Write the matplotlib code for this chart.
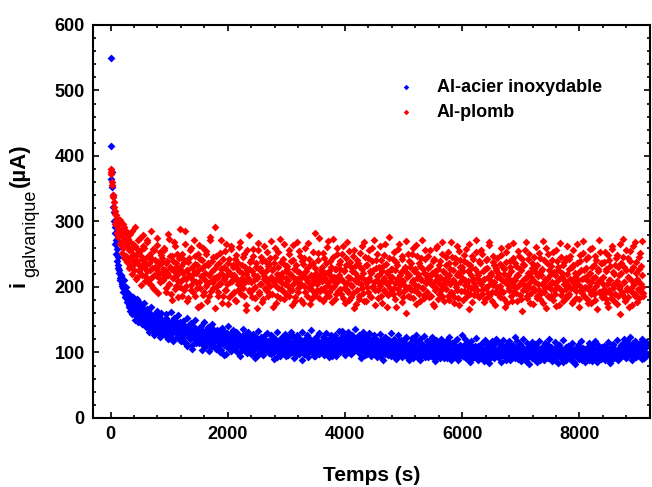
import numpy as np
import matplotlib
matplotlib.use("Agg")
import matplotlib.pyplot as plt
from matplotlib.ticker import MultipleLocator

plt.rcParams["font.family"] = ["Liberation Sans", "DejaVu Sans"]

# sampling step of the recording (s); the "_mid" readings sit half a step later
STEP = 15

LABEL_STEEL = "Al-acier inoxydable"
LABEL_LEAD = "Al-plomb"

# galvanic current, Al / stainless steel (uA)
i_steel = [
    550, 415, 375, 340, 315, 292, 271, 258, 246, 233, 226, 214, 219, 204, 199, 210, 191, 187, 200, 182,
    178, 169, 186, 172, 163, 175, 181, 160, 168, 171, 154, 166, 177, 158, 163, 149, 170, 161, 152, 159,
    148, 163, 141, 155, 137, 150, 158, 144, 133, 152, 147, 139, 160, 145, 136, 151, 123, 142, 149, 138,
    145, 131, 140, 152, 128, 136, 143, 125, 139, 147, 133, 121, 141, 135, 148, 129, 137, 126, 144, 132,
    118, 136, 128, 142, 124, 131, 115, 139, 127, 133, 121, 145, 126, 112, 134, 129, 138, 119, 130, 124,
    132, 117, 127, 140, 113, 123, 129, 108, 126, 135, 119, 122, 131, 114, 125, 137, 118, 110, 128, 121,
    126, 109, 119, 133, 115, 122, 104, 128, 117, 112, 124, 98, 120, 130, 113, 107, 121, 116, 127, 111,
    118, 124, 106, 114, 129, 110, 117, 101, 122, 113, 108, 126, 115, 103, 119, 112, 131, 109, 116, 105,
    120, 111, 99, 115, 125, 107, 113, 118, 96, 112, 121, 108, 114, 102, 117, 110, 127, 104, 111, 116,
    106, 119, 98, 112, 108, 123, 101, 115, 110, 93, 113, 118, 105, 109, 121, 100, 112, 107, 116, 95,
    111, 104, 120, 108, 99, 114, 110, 125, 102, 107, 117, 96, 112, 106, 119, 109, 101, 115, 88, 110,
    113, 103, 118, 107, 97, 111, 122, 105, 109, 100, 116, 108, 94, 112, 119, 104, 110, 98, 114, 106,
    117, 102, 111, 123, 106, 99, 113, 108, 120, 101, 110, 115, 95, 107, 112, 126, 104, 109, 118, 103,
    114, 120, 105, 112, 127, 108, 116, 100, 113, 119, 106, 122, 110, 97, 115, 109, 124, 103, 117, 111,
    107, 118, 112, 99, 115, 104, 121, 109, 113, 96, 111, 125, 106, 114, 102, 117, 108, 119, 101, 110,
    112, 98, 107, 116, 103, 110, 94, 108, 119, 101, 105, 113, 97, 109, 104, 121, 100, 107, 111, 95,
    106, 115, 99, 103, 110, 92, 108, 101, 117, 104, 96, 109, 113, 98, 105, 120, 102, 94, 107, 111,
    100, 108, 95, 112, 103, 97, 106, 118, 99, 104, 91, 109, 102, 114, 96, 105, 101, 110, 93, 107,
    104, 98, 111, 101, 94, 106, 116, 99, 103, 90, 108, 100, 113, 97, 105, 102, 95, 110, 99, 106,
    96, 109, 103, 91, 105, 100, 114, 98, 102, 107, 93, 101, 110, 97, 104, 88, 106, 99, 112, 100,
    103, 95, 108, 99, 92, 105, 101, 115, 97, 102, 90, 107, 100, 96, 110, 98, 104, 93, 101, 106,
    99, 111, 94, 103, 100, 87, 106, 98, 104, 113, 96, 101, 92, 108, 99, 105, 97, 102, 116, 95,
    100, 106, 91, 103, 97, 110, 99, 94, 105, 101, 88, 107, 98, 102, 112, 95, 100, 104, 93, 99,
    108, 96, 101, 90, 104, 99, 113, 97, 102, 94, 106, 100, 87, 103, 98, 109, 95, 101, 105, 92,
    99, 104, 96, 110, 93, 100, 97, 106, 89, 102, 98, 95, 108, 101, 91, 103, 97, 112, 94, 100,
    105, 92, 99, 103, 96, 88, 107, 100, 94, 101, 111, 97, 93, 104, 99, 86, 102, 98, 106, 95,
    100, 94, 108, 97, 91, 103, 99, 85, 101, 96, 105, 93, 98, 110, 95, 100, 89, 104, 97, 92,
    99, 106, 94, 101, 88, 97, 103, 95, 112, 98, 92, 100, 96, 107, 90, 102, 97, 94, 105, 99,
    93, 101, 96, 109, 98, 91, 104, 100, 87, 97, 103, 95, 111, 99, 94, 102, 98, 106, 92, 100,
    105, 97, 113, 101, 95, 108, 99, 118, 103, 94, 110, 100, 107, 96, 115, 102, 98, 109, 93, 104,
    99, 106, 95, 112, 101, 90, 103, 97, 108, 94, 110,
]

i_steel_mid = [
    365, 352, 322, 301, 283, 266, 250, 240, 229, 221, 211, 217, 202, 208, 193, 200, 185, 194, 177, 189,
    172, 190, 164, 178, 158, 184, 167, 150, 175, 162, 181, 146, 169, 156, 173, 143, 165, 176, 151, 160,
    139, 166, 153, 131, 158, 145, 170, 135, 149, 127, 156, 142, 164, 132, 147, 155, 129, 161, 144, 136,
    150, 126, 143, 158, 133, 120, 147, 138, 162, 129, 142, 117, 153, 134, 140, 124, 157, 131, 146, 119,
    139, 122, 148, 116, 134, 127, 152, 110, 137, 123, 143, 131, 106, 140, 120, 149, 128, 114, 135, 170,
    115, 138, 124, 104, 133, 120, 147, 111, 129, 118, 139, 102, 127, 134, 109, 143, 121, 116, 131, 105,
    123, 135, 110, 128, 101, 119, 137, 114, 125, 96, 131, 118, 108, 140, 115, 122, 103, 129, 112, 134,
    107, 121, 132, 100, 117, 127, 111, 94, 124, 116, 136, 105, 119, 113, 128, 99, 115, 123, 109, 97,
    114, 128, 103, 119, 92, 122, 110, 133, 106, 117, 100, 124, 111, 96, 120, 115, 104, 129, 108, 118,
    99, 114, 126, 103, 117, 90, 121, 108, 113, 131, 102, 116, 95, 111, 124, 106, 119, 98, 128, 110,
    117, 96, 123, 105, 114, 131, 100, 112, 91, 119, 108, 126, 103, 115, 97, 121, 110, 132, 104, 113,
    98, 120, 109, 127, 93, 116, 104, 112, 134, 101, 118, 95, 110, 123, 106, 99, 117, 129, 102, 114,
    105, 124, 96, 115, 108, 130, 101, 119, 93, 113, 126, 104, 117, 99, 122, 111, 95, 120, 107, 133,
    121, 101, 116, 133, 107, 119, 96, 125, 112, 104, 131, 115, 99, 118, 127, 103, 114, 136, 108, 120,
    115, 103, 126, 110, 92, 119, 106, 132, 101, 117, 124, 98, 113, 129, 105, 121, 95, 116, 110, 127,
    102, 120, 111, 93, 117, 105, 128, 99, 113, 89, 116, 107, 124, 100, 111, 96, 119, 104, 130, 108,
    97, 112, 121, 101, 90, 115, 106, 126, 98, 110, 119, 93, 107, 116, 100, 124, 95, 111, 104, 88,
    114, 99, 122, 105, 92, 110, 101, 127, 96, 116, 106, 89, 120, 103, 111, 98, 125, 107, 94, 117,
    109, 93, 118, 104, 98, 124, 100, 112, 87, 107, 119, 96, 114, 102, 91, 121, 105, 99, 116, 92,
    112, 98, 119, 94, 106, 123, 100, 89, 115, 103, 96, 117, 108, 92, 121, 101, 110, 95, 104, 126,
    94, 111, 100, 120, 91, 106, 97, 113, 86, 104, 117, 99, 108, 93, 102, 122, 96, 110, 89, 105,
    108, 93, 115, 101, 96, 119, 90, 104, 99, 112, 84, 107, 101, 118, 95, 110, 92, 103, 121, 97,
    104, 115, 96, 109, 86, 102, 119, 98, 107, 92, 113, 100, 95, 117, 89, 106, 101, 111, 97, 123,
    91, 105, 117, 100, 95, 112, 87, 108, 102, 120, 96, 104, 90, 114, 99, 106, 83, 110, 98, 116,
    105, 90, 113, 99, 108, 85, 102, 117, 96, 106, 93, 110, 100, 88, 115, 98, 104, 92, 121, 101,
    96, 109, 87, 104, 99, 116, 93, 107, 101, 84, 112, 97, 105, 90, 119, 100, 95, 108, 89, 103,
    110, 96, 101, 88, 115, 99, 93, 106, 83, 102, 97, 112, 90, 104, 98, 118, 92, 107, 100, 86,
    104, 91, 109, 97, 114, 94, 100, 87, 106, 99, 118, 93, 103, 85, 111, 96, 101, 90, 108, 102,
    97, 110, 89, 105, 100, 116, 93, 102, 84, 108, 98, 113, 91, 104, 96, 119, 99, 88, 106, 101,
    111, 94, 107, 99, 120, 103, 91, 114, 98, 106, 123, 96, 104, 89, 112, 101, 117, 95, 108, 100,
    107, 95, 114, 98, 121, 104, 92, 111, 99, 116,
]

# galvanic current, Al / lead (uA)
i_lead = [
    380, 375, 356, 341, 330, 312, 300, 306, 288, 294, 279, 302, 268, 284, 259, 291, 272, 247, 281, 263,
    244, 270, 232, 258, 286, 239, 251, 226, 263, 241, 215, 256, 233, 275, 228, 248, 219, 262, 237, 209,
    245, 224, 268, 212, 236, 251, 203, 229, 258, 219, 241, 196, 227, 264, 215, 233, 207, 249, 222, 238,
    211, 256, 226, 198, 240, 218, 273, 205, 231, 190, 247, 214, 224, 262, 201, 236, 219, 185, 244, 228,
    209, 251, 221, 195, 238, 286, 212, 226, 183, 245, 217, 203, 259, 230, 192, 221, 248, 207, 234, 170,
    226, 264, 199, 217, 241, 188, 232, 210, 255, 202, 179, 236, 219, 271, 194, 225, 208, 246, 213, 292,
    200, 233, 187, 219, 252, 206, 228, 175, 243, 212, 196, 266, 218, 204, 237, 184, 222, 258, 209, 230,
    193, 242, 216, 178, 229, 204, 261, 211, 189, 234, 221, 198, 250, 207, 165, 226, 213, 279, 196, 238,
    208, 185, 247, 219, 200, 231, 168, 214, 256, 193, 226, 205, 240, 181, 217, 262, 199, 224, 210, 187,
    235, 202, 270, 213, 190, 228, 207, 246, 176, 220, 199, 253, 211, 183, 238, 216, 194, 265, 205, 225,
    189, 232, 210, 257, 196, 218, 172, 241, 204, 227, 185, 212, 268, 199, 223, 206, 248, 180, 215, 235,
    201, 259, 213, 186, 229, 208, 243, 174, 217, 195, 236, 211, 282, 190, 222, 205, 252, 183, 219, 197,
    230, 209, 178, 244, 214, 192, 261, 203, 225, 187, 239, 210, 198, 273, 216, 181, 228, 207, 250, 194,
    218, 240, 189, 211, 263, 199, 226, 176, 234, 206, 193, 255, 213, 185, 231, 202, 247, 168, 221, 209,
    196, 237, 215, 182, 252, 204, 227, 191, 268, 210, 179, 233, 200, 245, 214, 187, 222, 259, 198, 226,
    208, 173, 241, 217, 195, 230, 262, 202, 186, 224, 211, 249, 192, 235, 205, 170, 220, 276, 199, 213,
    228, 190, 254, 206, 181, 238, 212, 197, 266, 203, 223, 177, 243, 209, 194, 231, 160, 216, 251, 200,
    219, 185, 236, 207, 260, 195, 227, 174, 214, 248, 201, 189, 232, 210, 271, 198, 221, 183, 242, 206,
    193, 229, 212, 257, 187, 218, 203, 240, 171, 225, 199, 263, 208, 182, 234, 216, 195, 250, 204, 178,
    222, 246, 197, 213, 186, 237, 205, 269, 191, 226, 210, 175, 244, 200, 219, 183, 255, 207, 230, 194,
    214, 180, 239, 203, 258, 192, 224, 209, 166, 233, 198, 247, 212, 188, 228, 201, 272, 196, 218, 184,
    236, 205, 190, 251, 211, 177, 227, 199, 243, 215, 186, 264, 204, 221, 193, 238, 208, 173, 229, 200,
    245, 189, 216, 202, 260, 194, 231, 181, 220, 207, 253, 176, 213, 198, 240, 186, 224, 205, 267, 192,
    210, 232, 179, 219, 201, 248, 188, 226, 164, 235, 203, 256, 195, 214, 183, 242, 206, 222, 191, 237,
    199, 174, 228, 208, 261, 187, 217, 196, 244, 182, 225, 204, 270, 193, 212, 168, 236, 201, 250, 185,
    218, 197, 241, 180, 223, 206, 189, 257, 200, 230, 172, 214, 246, 194, 221, 178, 238, 209, 186, 263,
    203, 227, 190, 248, 211, 175, 234, 198, 216, 183, 265, 205, 222, 169, 239, 196, 212, 252, 187, 226,
    200, 243, 181, 219, 195, 258, 207, 176, 231, 213, 190, 247, 202, 167, 224, 208, 271, 192, 236, 184,
    215, 197, 254, 182, 228, 204, 170, 241, 210, 189, 262, 199, 223, 178, 233, 206, 249, 187, 218, 158,
    201, 237, 193, 273, 208, 179, 226, 196, 244, 185, 214, 255, 199, 172, 230, 205, 268, 190, 221, 177,
    209, 246, 194, 232, 200, 270, 186,
]

i_lead_mid = [
    372, 360, 338, 322, 316, 296, 310, 283, 276, 298, 265, 287, 252, 276, 296, 245, 268, 285, 238, 274,
    257, 229, 281, 246, 220, 266, 235, 292, 249, 212, 240, 271, 224, 255, 203, 243, 279, 231, 260, 217,
    234, 271, 207, 248, 226, 285, 213, 243, 199, 256, 230, 218, 275, 238, 191, 221, 253, 209, 245, 227,
    260, 216, 193, 236, 222, 281, 204, 247, 228, 180, 239, 213, 268, 197, 230, 251, 209, 224, 288, 200,
    232, 187, 243, 214, 265, 201, 226, 178, 238, 218, 256, 195, 229, 210, 272, 186, 235, 222, 199, 250,
    207, 242, 173, 229, 215, 260, 193, 221, 250, 204, 233, 186, 218, 276, 209, 240, 198, 227, 168, 216,
    248, 214, 193, 236, 205, 271, 220, 187, 231, 212, 255, 196, 226, 174, 242, 208, 219, 263, 190, 233,
    218, 180, 249, 210, 237, 195, 225, 268, 203, 214, 246, 186, 231, 220, 173, 257, 209, 228, 193, 241,
    224, 197, 258, 211, 183, 236, 217, 267, 190, 229, 204, 246, 177, 221, 212, 240, 195, 253, 208, 232,
    191, 244, 215, 226, 170, 237, 203, 259, 212, 186, 230, 218, 274, 197, 222, 206, 243, 182, 234, 214,
    228, 201, 250, 187, 220, 240, 195, 264, 213, 178, 234, 208, 225, 192, 255, 216, 203, 239, 176, 221,
    244, 192, 225, 210, 267, 198, 233, 181, 219, 205, 254, 187, 229, 215, 196, 241, 209, 275, 194, 226,
    213, 252, 199, 222, 185, 236, 207, 270, 193, 218, 231, 177, 246, 211, 202, 228, 189, 259, 214, 235,
    197, 228, 212, 251, 183, 224, 206, 244, 195, 269, 216, 180, 238, 203, 225, 191, 257, 210, 232, 174,
    241, 208, 187, 230, 215, 263, 198, 221, 179, 246, 206, 234, 193, 256, 211, 224, 185, 239, 202, 272,
    195, 229, 211, 250, 183, 218, 204, 241, 175, 232, 213, 196, 266, 207, 223, 188, 245, 209, 227, 192,
    215, 243, 198, 226, 169, 234, 207, 258, 191, 219, 211, 247, 184, 228, 202, 270, 197, 222, 186, 239,
    230, 196, 251, 210, 183, 225, 203, 264, 192, 220, 236, 178, 214, 245, 199, 227, 188, 256, 208, 218,
    214, 248, 185, 232, 206, 221, 174, 242, 209, 195, 259, 217, 228, 190, 240, 203, 268, 186, 224, 211,
    199, 233, 207, 253, 180, 218, 228, 192, 246, 211, 185, 237, 204, 262, 196, 222, 173, 241, 215, 230,
    225, 194, 249, 210, 184, 236, 202, 265, 189, 219, 229, 177, 243, 206, 196, 254, 213, 221, 187, 240,
    208, 256, 195, 224, 212, 181, 241, 200, 229, 191, 268, 210, 218, 178, 247, 203, 233, 193, 226, 215,
    222, 200, 235, 184, 249, 211, 193, 227, 170, 238, 204, 218, 262, 195, 230, 208, 179, 244, 212, 198,
    237, 191, 219, 255, 203, 227, 182, 243, 209, 196, 233, 214, 269, 187, 222, 200, 250, 176, 215, 229,
    211, 246, 196, 221, 183, 234, 204, 252, 190, 218, 228, 175, 241, 207, 199, 259, 212, 186, 226, 203,
    232, 186, 208, 253, 195, 219, 171, 240, 211, 226, 199, 267, 188, 215, 233, 204, 181, 245, 197, 220,
    187, 243, 212, 199, 231, 178, 256, 206, 221, 194, 237, 210, 182, 249, 202, 226, 191, 270, 214, 198,
    229, 210, 175, 246, 201, 222, 189, 260, 196, 234, 215, 180, 241, 206, 227, 193, 253, 212, 185, 236,
    205, 238, 191, 224, 176, 249, 211, 196, 232, 183, 258, 203, 220, 190, 244, 209, 174, 230, 198, 265,
    222, 189, 246, 207, 231, 183, 257, 199, 215, 169, 240, 210, 226, 193, 262, 204, 186, 238, 212, 197,
    228, 183, 252, 205, 219, 191,
]

t_steel = np.concatenate([np.arange(len(i_steel)) * STEP,
                          np.arange(len(i_steel_mid)) * STEP + STEP / 2])
t_lead = np.concatenate([np.arange(len(i_lead)) * STEP,
                         np.arange(len(i_lead_mid)) * STEP + STEP / 2])
y_steel = np.concatenate([i_steel, i_steel_mid])
y_lead = np.concatenate([i_lead, i_lead_mid])

W, H = 652, 487
fig = plt.figure(figsize=(W / 100, H / 100), dpi=100)
ax = fig.add_axes([0.1426, 0.1417, 0.854, 0.807])

ax.scatter(t_steel, y_steel, s=16, marker="D", color="#0000ff", linewidths=0,
           label=LABEL_STEEL, zorder=2)
ax.scatter(t_lead, y_lead, s=16, marker="D", color="#ff0000", linewidths=0,
           label=LABEL_LEAD, zorder=3)

ax.set_xlim(-300, 9200)
ax.set_ylim(0, 600)
ax.xaxis.set_major_locator(MultipleLocator(2000))
ax.xaxis.set_minor_locator(MultipleLocator(400))
ax.yaxis.set_major_locator(MultipleLocator(100))
ax.yaxis.set_minor_locator(MultipleLocator(20))

ax.tick_params(which="both", direction="in", top=True, right=True, width=1.2)
ax.tick_params(which="major", length=4.5, labelsize=13, pad=6)
ax.tick_params(which="minor", length=2.5)
for lab in ax.get_xticklabels() + ax.get_yticklabels():
    lab.set_fontweight("bold")
for sp in ax.spines.values():
    sp.set_linewidth(1.5)

ax.set_xlabel("Temps (s)", fontsize=15, fontweight="bold", labelpad=16)

# y label built from pieces so the subscript keeps its own size
ykw = dict(rotation=90, rotation_mode="anchor", ha="left", va="baseline")
fig.text(25 / W, 1 - 287 / H, "i", fontsize=16, fontweight="bold", **ykw)
fig.text(35 / W, 1 - 277 / H, "galvanique", fontsize=13, **ykw)
fig.text(25 / W, 1 - 187 / H, "(µA)", fontsize=16, fontweight="bold", **ykw)

ax.legend(loc="upper left", bbox_to_anchor=(0.514, 0.905), frameon=False,
          prop={"weight": "bold", "size": 13}, markerscale=0.7,
          handletextpad=1.08, labelspacing=0.47, handlelength=1.2)

fig.savefig("out.png", dpi=100)
